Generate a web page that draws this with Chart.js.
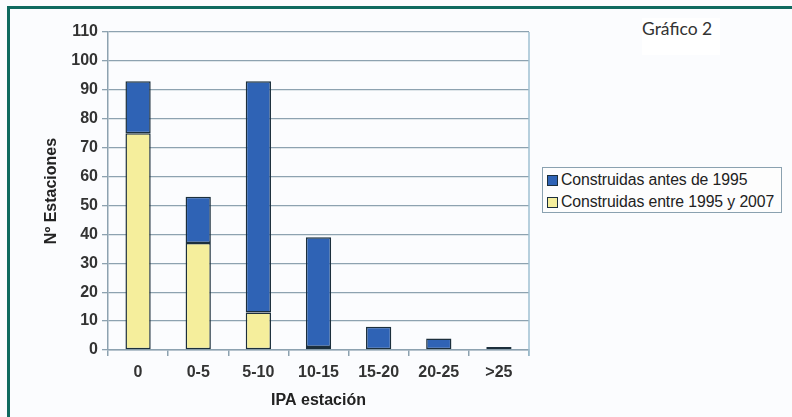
<!DOCTYPE html>
<html>
<head>
<meta charset="utf-8">
<script src="https://cdn.jsdelivr.net/npm/chart.js@4/dist/chart.umd.min.js"></script>
<style>
    html, body { margin: 0; padding: 0; background: #fbfcfe; }
    .wrap { position: relative; width: 792px; height: 417px; overflow: hidden; }
    .frame { position: absolute; left: 7px; top: 6px; width: 800px; height: 420px; border-left: 3px solid #0f6a5f; border-top: 3px solid #0f6a5f; box-sizing: border-box; pointer-events: none; }
    canvas { position: absolute; left: 0; top: 0; }
    .caption { position: absolute; left: 642px; top: 18px; font-family: "Lato", sans-serif; font-size: 17.5px; color: #333; background: #fff; padding: 0 8px 16px 0; }
    .legend { position: absolute; left: 542px; top: 167px; width: 240px; height: 46px; border: 1px solid #8aa1b0; background: #fdfdfd; box-sizing: border-box; font-family: "Liberation Sans", Arial, sans-serif; font-size: 15.8px; color: #222; padding-top: 1px; letter-spacing: -0.1px; }
    .legend div { height: 22px; line-height: 22px; white-space: nowrap; }
    .legend span { display: inline-block; width: 9px; height: 9px; border: 1.5px solid #1c2f3c; margin: 0 3px 0 4px; vertical-align: -1px; }
</style>
</head>
<body>
<div class="wrap">
    <canvas id="ipaChart" width="792" height="417"></canvas>
    <div class="frame"></div>
    <div class="caption">Gráfico 2</div>
    <div class="legend"></div>
</div>
<script>
const categories = ["0", "0-5", "5-10", "10-15", "15-20", "20-25", ">25"]
const antes1995 = [18, 16, 80, 38, 8, 4, 1]
const entre1995y2007 = [75, 37, 13, 1, 0, 0, 0]

const seriesNames = ["Construidas antes de 1995", "Construidas entre 1995 y 2007"]
const seriesColors = ["#2f63b5", "#f5ee9c"]

// legend as html, blue first like the original
document.querySelector(".legend").innerHTML = seriesNames.map((name, i) =>
    `<div><span style="background:${seriesColors[i]}"></span>${name}</div>`
).join("")

const plotBorder = {
    id: "plotBorder",
    afterDatasetsDraw(chart) {
        const { ctx, chartArea } = chart
        ctx.save()
        ctx.strokeStyle = "#9fc0d2"
        ctx.lineWidth = 1.5
        ctx.beginPath()
        ctx.moveTo(chartArea.right, chartArea.top)
        ctx.lineTo(chartArea.right, chartArea.bottom + 6)
        ctx.stroke()
        ctx.restore()
    }
}

const tickFont = { family: "'Liberation Sans', Arial, sans-serif", size: 16, weight: "bold" }
const titleFont = { family: "'Liberation Sans', Arial, sans-serif", size: 16, weight: "bold" }

new Chart(document.getElementById("ipaChart"), {
    type: "bar",
    data: {
        labels: categories,
        datasets: [
            {
                label: seriesNames[1],
                data: entre1995y2007,
                backgroundColor: seriesColors[1],
                borderColor: "#1c2f3c",
                borderWidth: 1.5,
                borderSkipped: false
            },
            {
                label: seriesNames[0],
                data: antes1995,
                backgroundColor: seriesColors[0],
                borderColor: "#1c2f3c",
                borderWidth: 1.5,
                borderSkipped: false
            }
        ]
    },
    options: {
        responsive: false,
        animation: false,
        layout: { padding: { left: 38, right: 263, top: 32, bottom: 0 } },
        datasets: { bar: { categoryPercentage: 1, barPercentage: 0.42 } },
        plugins: {
            legend: { display: false },
            tooltip: { enabled: false }
        },
        scales: {
            x: {
                stacked: true,
                afterFit: (scale) => { scale.height = 67 },
                ticks: { color: "#333", font: tickFont, padding: 7 },
                grid: { offset: true, drawOnChartArea: false, tickLength: 6, color: "#8da2b0", lineWidth: 1.5 },
                border: { color: "#8da2b0", width: 1.5 },
                title: {
                    display: true,
                    text: "IPA estación",
                    color: "#222",
                    font: titleFont,
                    padding: { top: 0, bottom: 7 }
                }
            },
            y: {
                stacked: true,
                min: 0,
                max: 110,
                afterFit: (scale) => { scale.width = 70 },
                ticks: { stepSize: 10, color: "#333", font: tickFont, padding: 4 },
                grid: { color: "#8da2b0", lineWidth: 1.3, tickLength: 6 },
                border: { color: "#8da2b0", width: 1.5 },
                title: {
                    display: true,
                    text: "Nº Estaciones",
                    color: "#222",
                    font: titleFont,
                    padding: { top: 4, bottom: 0 }
                }
            }
        }
    },
    plugins: [plotBorder]
})
</script>
</body>
</html>
